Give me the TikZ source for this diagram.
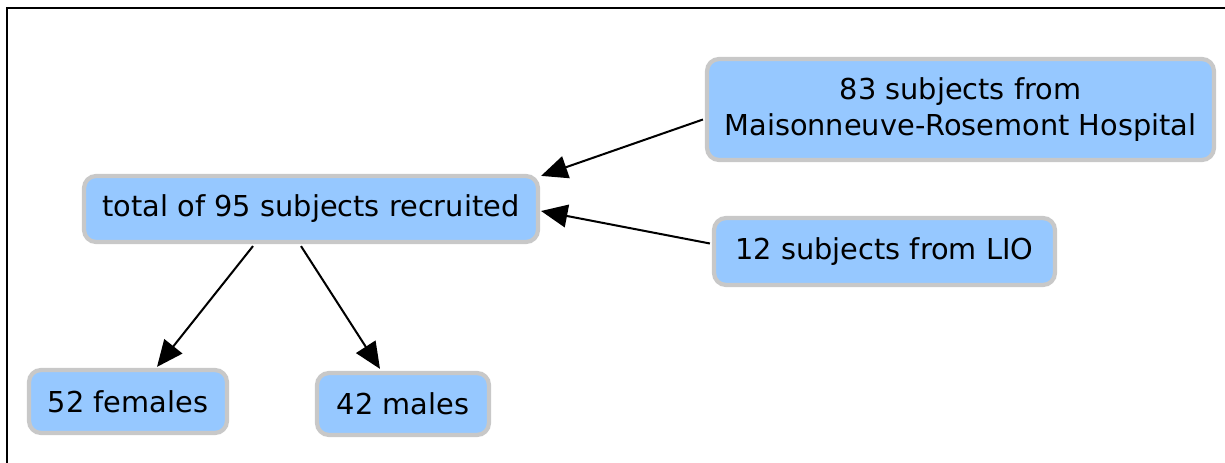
\documentclass[tikz,border=0pt]{standalone}
\usepackage{fontspec}
\setmainfont{DejaVu Sans}
\usepackage{tikz}
\usetikzlibrary{calc, arrows.meta, positioning}

\tikzset{
  box/.style={draw=boxgray, line width=2.4pt, fill=boxblue, rounded corners=0.24cm,
    inner sep=0pt, align=center, font=\fontsize{16.4}{20}\selectfont},
  arr/.style={-{Triangle[length=15pt, width=13pt]}, line width=1.15pt}
}
\definecolor{boxblue}{RGB}{150,200,255}
\definecolor{boxgray}{RGB}{200,200,200}

\begin{document}
\begin{tikzpicture}[x=0.02cm, y=-0.02cm]
         \useasboundingbox (0,0) rectangle (1225,463);
         \draw[line width=1.2pt] (7,463) -- (7,8) -- (1225,8);
         \node[box, minimum width=9.08cm, minimum height=1.32cm] (total) at (311,209) {total of 95 subjects recruited};
         \node[box, minimum width=10.14cm, minimum height=2.02cm] (src83) at (960.5,109.5) {83 subjects from\\Maisonneuve-Rosemont Hospital};
         \node[box, minimum width=6.82cm, minimum height=1.34cm] (src12) at (884.5,251.5) {12 subjects from LIO};
         \node[box, minimum width=3.96cm, minimum height=1.26cm] (fem) at (128,401.5) {52 females};
         \node[box, minimum width=3.44cm, minimum height=1.24cm] (male) at (403,404) {42 males};
         \draw[arr] ($(src83.west)+(-2,10)$) -- ($(total.north east)+(1,2)$);
         \draw[arr] ($(src12.west)+(-2,-8)$) -- ($(total.east)+(1,2)$);
         \draw[arr] ($(total.south)+(-58,2)$) -- ($(fem.north)+(29,-1)$);
         \draw[arr] ($(total.south)+(-10,2)$) -- ($(male.north)+(-23,-2)$);
      \end{tikzpicture}
\end{document}
